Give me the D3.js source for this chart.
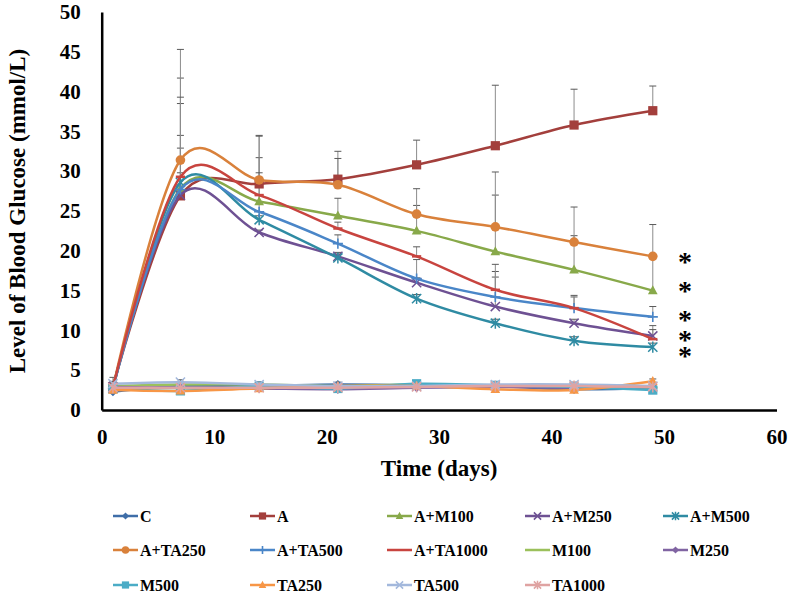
<!DOCTYPE html>
<html>
<head>
<meta charset="utf-8">
<script src="https://cdn.jsdelivr.net/npm/d3@7"></script>
<style>
  html, body { margin: 0; padding: 0; background: #fff; }
  svg { display: block; }
  text { font-family: "Liberation Serif", "Times New Roman", serif; font-weight: bold; fill: #000; }
</style>
</head>
<body>
<svg id="chart" width="790" height="594"></svg>
<script>
// ---- data ----
const days = [1, 7, 14, 21, 28, 35, 42, 49];
const seriesNames = ["C", "A", "A+M100", "A+M250", "A+M500", "A+TA250", "A+TA500", "A+TA1000",
                     "M100", "M250", "M500", "TA250", "TA500", "TA1000"];
const seriesColors = ["#3F6EA8", "#A33F3C", "#88A94A", "#6E5193", "#2F8BA3", "#D9813B", "#4A86C8", "#C8443F",
                      "#9BC05B", "#8064A2", "#4BACC6", "#F79646", "#A3B8DC", "#DFA3A2"];
const seriesMarkers = ["diamond", "square", "triangle", "x", "star", "circle", "plus", "dash",
                       "dash", "diamond", "square", "triangle", "x", "star"];

const valC        = [2.3, 3.0, 3.0, 3.2, 3.1, 3.0, 2.6, 2.8];
const valA        = [2.9, 26.9, 28.4, 29.0, 30.8, 33.2, 35.8, 37.6];
const valAM100    = [2.9, 27.8, 26.2, 24.4, 22.5, 19.9, 17.6, 15.0];
const valAM250    = [2.9, 27.0, 22.3, 19.3, 16.0, 13.0, 10.9, 9.3];
const valAM500    = [2.7, 28.6, 23.9, 19.1, 14.0, 10.9, 8.7, 7.9];
const valATA250   = [2.8, 31.4, 28.9, 28.3, 24.6, 23.0, 21.1, 19.3];
const valATA500   = [2.7, 27.7, 24.9, 20.9, 16.5, 14.2, 12.8, 11.7];
const valATA1000  = [2.8, 29.3, 27.0, 22.8, 19.3, 15.1, 12.8, 8.9];
const valM100     = [3.0, 3.2, 3.2, 3.0, 3.2, 3.0, 3.0, 2.8];
const valM250     = [2.9, 2.8, 2.7, 2.6, 2.8, 2.9, 2.8, 2.9];
const valM500     = [2.7, 2.4, 3.0, 2.7, 3.3, 3.1, 2.9, 2.5];
const valTA250    = [2.5, 2.4, 2.7, 3.0, 3.0, 2.6, 2.5, 3.6];
const valTA500    = [3.3, 3.5, 3.2, 3.0, 3.0, 3.2, 3.2, 3.0];
const valTA1000   = [2.8, 2.8, 2.8, 2.8, 2.9, 3.0, 3.0, 2.9];

// upper error bars (SD)
const errC        = [0.4, 0.3, 0.3, 0.3, 0.3, 0.3, 0.3, 0.3];
const errA        = [0.6, 14.8, 6.1, 3.5, 3.1, 7.6, 4.5, 3.1];
const errAM100    = [0.5, 10.7, 5.5, 2.2, 3.2, 7.1, 4.3, 4.2];
const errAM250    = [0.4, 7.5, 0.3, 0.5, 0.6, 3.7, 0.5, 1.3];
const errAM500    = [0.4, 1.2, 0.5, 0.5, 0.5, 0.5, 0.5, 0.5];
const errATA250   = [0.5, 13.9, 5.5, 3.3, 3.2, 6.9, 4.4, 4.0];
const errATA500   = [0.5, 5.2, 2.1, 1.1, 2.4, 3.2, 1.4, 1.3];
const errATA1000  = [1.3, 10.0, 2.8, 0.8, 1.2, 3.2, 1.6, 1.2];
const errM100     = [0.3, 0.3, 0.3, 0.3, 0.3, 0.3, 0.3, 0.3];
const errM250     = [0.3, 0.3, 0.3, 0.3, 0.3, 0.3, 0.3, 0.3];
const errM500     = [0.3, 0.3, 0.3, 0.3, 0.3, 0.3, 0.3, 0.3];
const errTA250    = [0.3, 0.3, 0.3, 0.3, 0.3, 0.3, 0.3, 0.3];
const errTA500    = [0.3, 0.3, 0.3, 0.3, 0.3, 0.3, 0.3, 0.3];
const errTA1000   = [0.3, 0.3, 0.3, 0.3, 0.3, 0.3, 0.3, 0.3];

const allValues = [valC, valA, valAM100, valAM250, valAM500, valATA250, valATA500, valATA1000,
                   valM100, valM250, valM500, valTA250, valTA500, valTA1000];
const allErrors = [errC, errA, errAM100, errAM250, errAM500, errATA250, errATA500, errATA1000,
                   errM100, errM250, errM500, errTA250, errTA500, errTA1000];

const xTicks = [0, 10, 20, 30, 40, 50, 60];
const yTicks = [0, 5, 10, 15, 20, 25, 30, 35, 40, 45, 50];
const significanceMarks = [19.2, 15.5, 11.9, 9.3, 7.4]; // asterisk levels
const xTitle = "Time (days)";
const yTitle = "Level of Blood Glucose (mmol/L)";

// ---- layout ----
const svg = d3.select("#chart");
const x = d3.scaleLinear().domain([0, 60]).range([101.7, 776.5]);
const y = d3.scaleLinear().domain([0, 50]).range([410, 12]);

const series = seriesNames.map((name, i) => ({
  name, color: seriesColors[i], marker: seriesMarkers[i],
  points: days.map((d, j) => ({ day: d, v: allValues[i][j], e: allErrors[i][j] }))
}));

function drawMarker(g, type, color, s) {
  if (type === "diamond") {
    g.append("path").attr("d", `M0,${-s}L${s},0L0,${s}L${-s},0Z`).attr("fill", color);
  } else if (type === "square") {
    g.append("rect").attr("x", -s).attr("y", -s).attr("width", 2 * s).attr("height", 2 * s).attr("fill", color);
  } else if (type === "triangle") {
    g.append("path").attr("d", `M0,${-s * 1.15}L${s * 1.05},${s * 0.8}L${-s * 1.05},${s * 0.8}Z`).attr("fill", color);
  } else if (type === "circle") {
    g.append("circle").attr("r", s * 1.05).attr("fill", color);
  } else if (type === "x") {
    g.append("path").attr("d", `M${-s},${-s}L${s},${s}M${-s},${s}L${s},${-s}`).attr("stroke", color).attr("stroke-width", 1.5).attr("fill", "none");
  } else if (type === "star") {
    g.append("path").attr("d", `M${-s},${-s}L${s},${s}M${-s},${s}L${s},${-s}M0,${-s * 1.2}L0,${s * 1.2}`).attr("stroke", color).attr("stroke-width", 1.5).attr("fill", "none");
  } else if (type === "plus") {
    g.append("path").attr("d", `M${-s * 1.1},0L${s * 1.1},0M0,${-s * 1.1}L0,${s * 1.1}`).attr("stroke", color).attr("stroke-width", 1.6).attr("fill", "none");
  } else if (type === "dash") {
    g.append("path").attr("d", `M${-s},0L${s},0`).attr("stroke", color).attr("stroke-width", 2.5).attr("fill", "none");
  }
}

// error bars
const errG = svg.append("g").attr("class", "errors");
series.forEach(s => {
  s.points.forEach(p => {
    const x0 = x(p.day), y0 = y(p.v), y1 = y(p.v + p.e);
    errG.append("line").attr("x1", x0).attr("x2", x0).attr("y1", y0).attr("y2", y1)
      .attr("stroke", "#8C8C8C").attr("stroke-width", 1);
    errG.append("line").attr("x1", x0 - 3.5).attr("x2", x0 + 3.5).attr("y1", y1).attr("y2", y1)
      .attr("stroke", "#595959").attr("stroke-width", 1);
  });
});

// lines + markers
const line = d3.line().x(p => x(p.day)).y(p => y(p.v)).curve(d3.curveCatmullRom.alpha(0));
const seriesG = svg.append("g").attr("class", "series");
series.forEach(s => {
  const g = seriesG.append("g");
  g.append("path").attr("d", line(s.points)).attr("fill", "none")
    .attr("stroke", s.color).attr("stroke-width", 2.5).attr("stroke-linejoin", "round");
  s.points.forEach(p => {
    const mg = g.append("g").attr("transform", `translate(${x(p.day)},${y(p.v)})`);
    drawMarker(mg, s.marker, s.color, 4.6);
  });
});

// axes
const yAxis = d3.axisLeft(y).tickValues(yTicks).tickSize(0).tickSizeOuter(0).tickPadding(21);
const yg = svg.append("g").attr("transform", `translate(${x(0)},0)`).call(yAxis);
yg.select(".domain").attr("stroke", "#000").attr("stroke-width", 2.5);
yg.selectAll("text").attr("font-size", 21).attr("font-family", "Liberation Serif").attr("font-weight", "bold").attr("fill", "#000");

const xAxis = d3.axisBottom(x).tickValues(xTicks).tickSize(0).tickSizeOuter(0).tickPadding(19);
const xg = svg.append("g").attr("transform", `translate(0,${y(0)})`).call(xAxis);
xg.select(".domain").attr("stroke", "#000").attr("stroke-width", 2.5);
xg.selectAll("text").attr("font-size", 21).attr("font-family", "Liberation Serif").attr("font-weight", "bold").attr("fill", "#000");

// titles
svg.append("text").attr("x", (x(0) + x(60)) / 2).attr("y", 476).attr("text-anchor", "middle")
  .attr("font-size", 23).text(xTitle);
svg.append("text").attr("transform", `translate(25,${(y(0) + y(50)) / 2}) rotate(-90)`)
  .attr("text-anchor", "middle").attr("font-size", 23).text(yTitle);

// asterisks
const starG = svg.append("g");
significanceMarks.forEach((v) => {
  starG.append("text").attr("x", 685).attr("y", y(v) + 13.5).attr("text-anchor", "middle")
    .attr("font-size", 28).text("*");
});

// legend
const legCols = [113, 250, 387, 525, 663];
const legRows = [516, 550, 585];
const legG = svg.append("g");
series.forEach((s, i) => {
  const cx = legCols[i % 5], cy = legRows[Math.floor(i / 5)];
  const g = legG.append("g").attr("transform", `translate(${cx},${cy})`);
  g.append("line").attr("x1", 0).attr("x2", 25).attr("y1", 0).attr("y2", 0)
    .attr("stroke", s.color).attr("stroke-width", 2.5);
  const mg = g.append("g").attr("transform", "translate(12.5,0)");
  if (s.marker !== "dash") drawMarker(mg, s.marker, s.color, 3.6);
  g.append("text").attr("x", 27).attr("y", 0).attr("dy", "0.35em").attr("font-size", 16).text(s.name);
});
</script>
</body>
</html>
